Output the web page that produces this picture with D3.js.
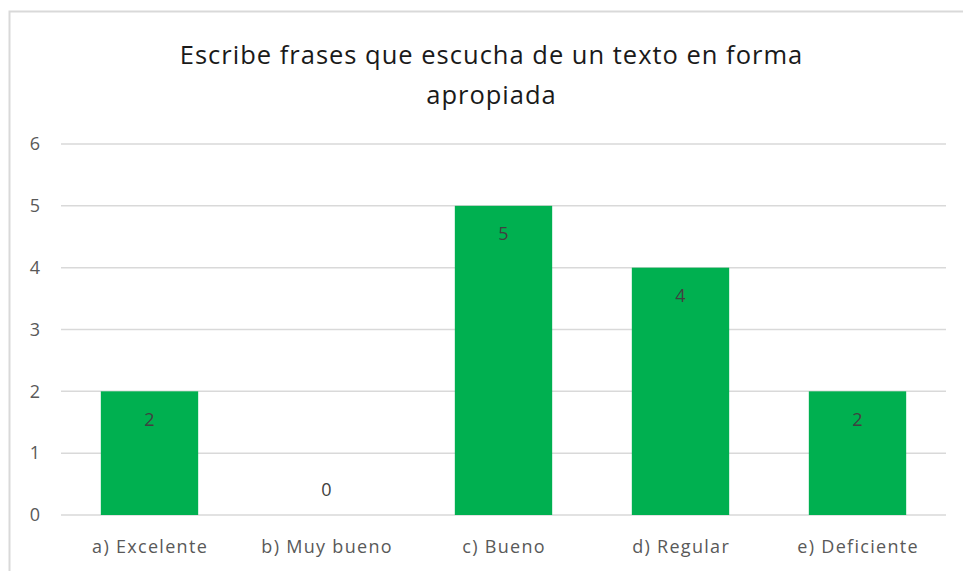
<!DOCTYPE html>
<html>
<head>
<meta charset="utf-8">
<script src="https://cdn.jsdelivr.net/npm/d3@7"></script>
<style>
  body { margin: 0; background: #fff; }
  svg { display: block; font-family: "Open Sans", Lato, sans-serif; }
</style>
</head>
<body>
<svg class="chart" width="963" height="571"></svg>
<script>
var categories = ['a) Excelente', 'b) Muy bueno', 'c) Bueno', 'd) Regular', 'e) Deficiente'];
var values = [2, 0, 5, 4, 2];
var yTicks = [0, 1, 2, 3, 4, 5, 6];
var titleLines = ['Escribe frases que escucha de un texto en forma', 'apropiada'];

var svg = d3.select('svg.chart');
var width = +svg.attr('width');
var height = +svg.attr('height');

var margin = {left: 61, right: 17, top: 144, bottom: 56};

// chart frame (only top and left edge visible in the crop)
svg.append('rect')
    .attr('x', 9.5).attr('y', 11.5)
    .attr('width', 1000).attr('height', 1000)
    .attr('fill', '#fff')
    .attr('stroke', '#d9d9d9')
    .attr('stroke-width', 2);

var x = d3.scaleBand()
    .domain(categories)
    .range([margin.left, width - margin.right])
    .paddingInner(0.45)
    .paddingOuter(0.225);

var y = d3.scaleLinear()
    .domain([0, 6])
    .range([height - margin.bottom, margin.top]);

// gridlines
svg.append('g')
    .selectAll('line')
    .data(yTicks)
    .enter()
    .append('line')
    .attr('x1', margin.left)
    .attr('x2', width - margin.right)
    .attr('y1', function (d) { return y(d); })
    .attr('y2', function (d) { return y(d); })
    .attr('stroke', '#d9d9d9')
    .attr('stroke-width', 1.5);

// y tick labels
svg.append('g')
    .selectAll('text')
    .data(yTicks)
    .enter()
    .append('text')
    .attr('x', 40)
    .attr('y', function (d) { return y(d); })
    .attr('dy', '0.35em')
    .attr('text-anchor', 'end')
    .attr('font-size', 18)
    .attr('fill', '#595959')
    .text(function (d) { return d; });

// bars
svg.append('g')
    .selectAll('rect')
    .data(values)
    .enter()
    .append('rect')
    .attr('x', function (d, i) { return x(categories[i]); })
    .attr('y', function (d) { return y(d); })
    .attr('width', x.bandwidth())
    .attr('height', function (d) { return y(0) - y(d); })
    .attr('fill', '#00b050');

// value labels
svg.append('g')
    .selectAll('text')
    .data(values)
    .enter()
    .append('text')
    .attr('x', function (d, i) { return x(categories[i]) + x.bandwidth() / 2; })
    .attr('y', function (d) { return d === 0 ? y(0) - 25 : y(d) + 28; })
    .attr('dy', '0.35em')
    .attr('text-anchor', 'middle')
    .attr('font-size', 18)
    .attr('fill', '#404040')
    .text(function (d) { return d; });

// x category labels
svg.append('g')
    .selectAll('text')
    .data(categories)
    .enter()
    .append('text')
    .attr('x', function (d) { return x(d) + x.bandwidth() / 2 + 0.6; })
    .attr('y', 547)
    .attr('dy', '0.35em')
    .attr('text-anchor', 'middle')
    .attr('font-size', 18)
    .attr('letter-spacing', 1.3)
    .attr('fill', '#595959')
    .text(function (d) { return d; });

// title
svg.append('g')
    .selectAll('text')
    .data(titleLines)
    .enter()
    .append('text')
    .attr('x', 491.5)
    .attr('y', function (d, i) { return 55 + i * 40; })
    .attr('dy', '0.35em')
    .attr('text-anchor', 'middle')
    .attr('font-size', 25.5)
    .attr('letter-spacing', 1)
    .attr('fill', '#1a1a1a')
    .text(function (d) { return d; });
</script>
</body>
</html>
